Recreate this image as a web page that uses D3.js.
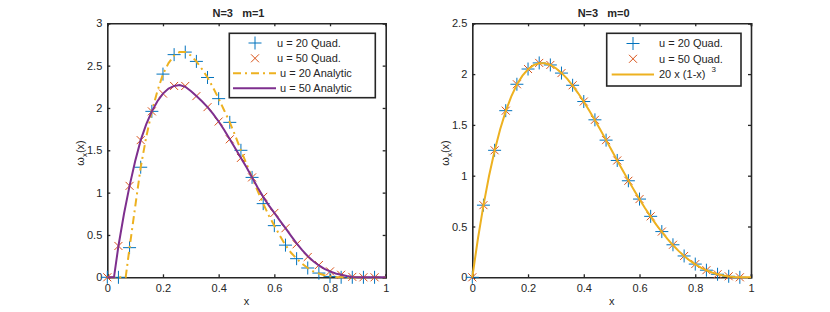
<!DOCTYPE html>
<html>
<head>
<meta charset="utf-8">
<script src="https://cdn.jsdelivr.net/npm/d3@7"></script>
<style>
body { margin: 0; background: #fff; }
text { font-family: "Liberation Sans", Arial, Helvetica, sans-serif; fill: #262626; }
</style>
</head>
<body>
<div id="chart"></div>
<script>
// quadrature sample points (both panels)
var xQuad = [0, 0.04, 0.08, 0.12, 0.16, 0.20, 0.24, 0.28, 0.32, 0.36, 0.40, 0.44, 0.48,
    0.52, 0.56, 0.60, 0.64, 0.68, 0.72, 0.76, 0.80, 0.84, 0.88, 0.92, 0.96];

// left panel, m=1
var m1u20Quad = [0, 0, 0.35, 1.30, 1.96, 2.40, 2.63, 2.66, 2.55, 2.36, 2.11, 1.83, 1.50,
    1.18, 0.87, 0.61, 0.38, 0.22, 0.11, 0.05, 0.01, 0, 0, 0, 0];
var m1u50Quad = [0, 0.37, 1.08, 1.62, 1.96, 2.17, 2.26, 2.26, 2.14, 2.01, 1.84, 1.63, 1.41,
    1.18, 0.95, 0.76, 0.58, 0.39, 0.24, 0.145, 0.07, 0.03, 0.005, 0, 0];

var xU20Line = [0, 0.02, 0.04, 0.06, 0.066, 0.08, 0.10, 0.12, 0.14, 0.16, 0.18, 0.20, 0.22, 0.24,
    0.26, 0.28, 0.30, 0.32, 0.34, 0.36, 0.38, 0.40, 0.42, 0.44, 0.46, 0.48, 0.50, 0.52, 0.54,
    0.56, 0.58, 0.60, 0.62, 0.64, 0.66, 0.68, 0.70, 0.72, 0.74, 0.76, 0.78, 0.80, 0.82, 0.84,
    0.86, 0.90, 0.95, 1.0];
var m1u20Line = [0, 0, 0, 0, 0, 0.35, 0.83, 1.30, 1.66, 1.96, 2.20, 2.40, 2.53, 2.62,
    2.66, 2.66, 2.62, 2.55, 2.46, 2.36, 2.24, 2.11, 1.97, 1.83, 1.67, 1.50, 1.34, 1.18, 1.02,
    0.87, 0.73, 0.61, 0.49, 0.38, 0.29, 0.22, 0.16, 0.11, 0.07, 0.045, 0.025, 0.012, 0.004, 0.001,
    0, 0, 0, 0];

var xU50Line = [0, 0.02, 0.024, 0.04, 0.06, 0.08, 0.10, 0.12, 0.14, 0.16, 0.18, 0.20, 0.22, 0.24,
    0.26, 0.28, 0.30, 0.32, 0.34, 0.36, 0.38, 0.40, 0.42, 0.44, 0.46, 0.48, 0.50, 0.52, 0.54,
    0.56, 0.58, 0.60, 0.62, 0.64, 0.66, 0.68, 0.70, 0.72, 0.74, 0.76, 0.78, 0.80, 0.82, 0.84,
    0.86, 0.88, 0.90, 0.95, 1.0];
var m1u50Line = [0, 0, 0, 0.37, 0.75, 1.08, 1.37, 1.62, 1.81, 1.96, 2.08, 2.17, 2.23, 2.26,
    2.27, 2.25, 2.20, 2.14, 2.08, 2.01, 1.93, 1.84, 1.74, 1.63, 1.52, 1.41, 1.30, 1.18, 1.06,
    0.95, 0.85, 0.76, 0.67, 0.58, 0.49, 0.40, 0.32, 0.25, 0.19, 0.14, 0.10, 0.07, 0.045, 0.03,
    0.015, 0.005, 0, 0, 0];

// right panel, m=0
var m0u20Quad = [0, 0.71, 1.25, 1.64, 1.90, 2.05, 2.11, 2.09, 2.01, 1.89, 1.73, 1.55, 1.35,
    1.15, 0.95, 0.77, 0.60, 0.45, 0.32, 0.21, 0.13, 0.07, 0.03, 0.01, 0];
var m0u50Quad = [0, 0.71, 1.25, 1.64, 1.90, 2.05, 2.11, 2.09, 2.01, 1.89, 1.73, 1.55, 1.35,
    1.15, 0.95, 0.77, 0.60, 0.45, 0.32, 0.21, 0.13, 0.07, 0.03, 0.01, 0];
var xExact = [0, 0.02, 0.04, 0.06, 0.08, 0.10, 0.12, 0.14, 0.16, 0.18, 0.20, 0.22, 0.24, 0.26,
    0.28, 0.30, 0.32, 0.34, 0.36, 0.38, 0.40, 0.42, 0.44, 0.46, 0.48, 0.50, 0.52, 0.54, 0.56,
    0.58, 0.60, 0.62, 0.64, 0.66, 0.68, 0.70, 0.72, 0.74, 0.76, 0.78, 0.80, 0.82, 0.84, 0.86,
    0.88, 0.90, 0.92, 0.94, 0.96, 0.98, 1.0];
var m0Exact = [0, 0.377, 0.708, 0.997, 1.246, 1.458, 1.636, 1.781, 1.897, 1.985, 2.048, 2.088,
    2.107, 2.107, 2.090, 2.058, 2.012, 1.955, 1.887, 1.811, 1.728, 1.639, 1.545, 1.449, 1.350,
    1.250, 1.150, 1.051, 0.954, 0.859, 0.768, 0.680, 0.597, 0.519, 0.446, 0.378, 0.316, 0.260,
    0.210, 0.166, 0.128, 0.096, 0.069, 0.047, 0.030, 0.018, 0.009, 0.004, 0.001, 0.0002, 0];

var xTicks = [0, 0.2, 0.4, 0.6, 0.8, 1];
var yTicksLeft = [0, 0.5, 1, 1.5, 2, 2.5, 3];
var yTicksRight = [0, 0.5, 1, 1.5, 2, 2.5];

var blue = "#0072BD", red = "#D95319", yellow = "#EDB120", purple = "#7E2F8E";
var axisColor = "#262626";

var svg = d3.select("#chart").append("svg")
    .attr("width", 830)
    .attr("height", 312);

function plusPath(s) { return "M" + (-s) + ",0H" + s + "M0," + (-s) + "V" + s; }
function crossPath(s) { return "M" + (-s) + "," + (-s) + "L" + s + "," + s + "M" + (-s) + "," + s + "L" + s + "," + (-s); }

function drawPanel(opt) {
    var x = d3.scaleLinear().domain([0, 1]).range(opt.xRange);
    var y = d3.scaleLinear().domain(opt.yDomain).range([277.3, 23.3]);
    var g = svg.append("g");
    var x0 = opt.xRange[0], x1 = opt.xRange[1];

    // axes, ticks inside on all four sides
    g.append("g").attr("transform", "translate(0,277.3)")
        .call(d3.axisBottom(x).tickValues(xTicks).tickSize(-3).tickPadding(7).tickFormat(d3.format("~g")));
    g.append("g").attr("transform", "translate(0,23.3)")
        .call(d3.axisTop(x).tickValues(xTicks).tickSize(-3).tickFormat(""));
    g.append("g").attr("transform", "translate(" + x0 + ",0)")
        .call(d3.axisLeft(y).tickValues(opt.yTicks).tickSize(-3).tickPadding(5).tickFormat(d3.format("~g")));
    g.append("g").attr("transform", "translate(" + x1 + ",0)")
        .call(d3.axisRight(y).tickValues(opt.yTicks).tickSize(-3).tickFormat(""));
    g.selectAll(".domain").attr("stroke", axisColor).attr("stroke-width", 1.6);
    g.selectAll(".tick line").attr("stroke", axisColor).attr("stroke-width", 1.3);
    g.selectAll(".tick text").style("font-size", "11px").attr("fill", axisColor);

    g.append("text")
        .attr("x", (x0 + x1) / 2 - 8).attr("y", 17.3)
        .attr("text-anchor", "middle")
        .style("font-size", "11px").style("font-weight", "bold").style("white-space", "pre")
        .text(opt.title);

    g.append("text")
        .attr("x", (x0 + x1) / 2).attr("y", 305)
        .attr("text-anchor", "middle").style("font-size", "11px")
        .text("x");

    var yl = g.append("text")
        .attr("transform", "translate(" + (x0 - 23) + ",153) rotate(-90)")
        .attr("text-anchor", "middle").style("font-size", "11px");
    yl.append("tspan").text("\u03c9");
    yl.append("tspan").attr("dy", 3).style("font-size", "8px").text("x");
    yl.append("tspan").attr("dy", -3).text("(x)");

    // data
    opt.series.forEach(function(s) {
        if (s.type == "marker") {
            g.selectAll(null).data(s.ys).enter().append("path")
                .attr("transform", function(d, i) { return "translate(" + x(s.xs[i]) + "," + y(d) + ")"; })
                .attr("d", s.shape)
                .attr("fill", "none").attr("stroke", s.color).attr("stroke-width", 1);
        } else {
            var line = d3.line()
                .x(function(d, i) { return x(s.xs[i]); })
                .y(function(d) { return y(d); });
            g.append("path").datum(s.ys)
                .attr("d", line)
                .attr("fill", "none").attr("stroke", s.color).attr("stroke-width", 2)
                .attr("stroke-dasharray", s.dash || null);
        }
    });

    // legend
    var L = opt.legend;
    var lg = g.append("g");
    lg.append("rect")
        .attr("x", L.x).attr("y", L.y).attr("width", L.w).attr("height", L.h)
        .attr("fill", "#fff").attr("stroke", axisColor).attr("stroke-width", 1.6);
    opt.series.forEach(function(s, i) {
        var ry = L.rows[i];
        if (s.type == "marker") {
            lg.append("path")
                .attr("transform", "translate(" + L.mx + "," + ry + ")")
                .attr("d", s.shape)
                .attr("fill", "none").attr("stroke", s.color).attr("stroke-width", 1);
        } else {
            lg.append("line")
                .attr("x1", L.lx0).attr("x2", L.lx1).attr("y1", ry).attr("y2", ry)
                .attr("stroke", s.color).attr("stroke-width", 2)
                .attr("stroke-dasharray", s.dash || null);
        }
        var t = lg.append("text")
            .attr("x", s.type == "marker" ? L.tx : L.tx2).attr("y", ry).attr("dy", "0.35em")
            .style("font-size", "11px");
        t.append("tspan").text(s.label);
        if (s.sup) {
            t.append("tspan").attr("dx", 6).attr("dy", -6).style("font-size", "8px").text(s.sup);
        }
    });
}

drawPanel({
    xRange: [107.3, 385.7],
    yDomain: [0, 3],
    yTicks: yTicksLeft,
    title: "N=3   m=1",
    series: [
        { type: "marker", shape: plusPath(6.5), color: blue, xs: xQuad, ys: m1u20Quad, label: "u = 20 Quad." },
        { type: "marker", shape: crossPath(4), color: red, xs: xQuad, ys: m1u50Quad, label: "u = 50 Quad." },
        { type: "line", color: yellow, dash: "8,4,2,4", xs: xU20Line, ys: m1u20Line, label: "u = 20 Analytic" },
        { type: "line", color: purple, xs: xU50Line, ys: m1u50Line, label: "u = 50 Analytic" }
    ],
    legend: { x: 229.3, y: 33.3, w: 146, h: 64.4, rows: [43, 58.3, 73.3, 88.3], mx: 255, lx0: 233, lx1: 276, tx: 277, tx2: 280 }
});

drawPanel({
    xRange: [472.3, 751],
    yDomain: [0, 2.5],
    yTicks: yTicksRight,
    title: "N=3   m=0",
    series: [
        { type: "marker", shape: plusPath(6.5), color: blue, xs: xQuad, ys: m0u20Quad, label: "u = 20 Quad." },
        { type: "marker", shape: crossPath(4), color: red, xs: xQuad, ys: m0u50Quad, label: "u = 50 Quad." },
        { type: "line", color: yellow, xs: xExact, ys: m0Exact, label: "20 x (1-x)", sup: "3" }
    ],
    legend: { x: 606.7, y: 33.3, w: 134.3, h: 52.7, rows: [43.5, 58.8, 74.5], mx: 633, lx0: 611.7, lx1: 654, tx: 659, tx2: 659 }
});
</script>
</body>
</html>
